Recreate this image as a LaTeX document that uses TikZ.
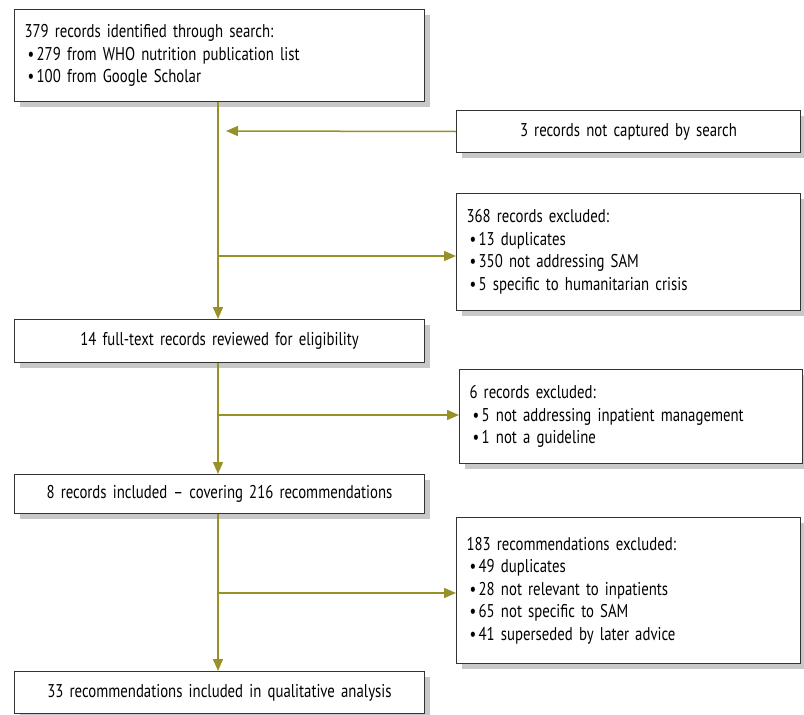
\documentclass[tikz,border=0pt]{standalone}
\usepackage{fontspec}
\setmainfont[FakeStretch=0.8]{PT Sans}
\usetikzlibrary{shadows,arrows.meta}
\definecolor{arr}{RGB}{150,146,40}
\definecolor{shd}{RGB}{200,200,200}
\newcommand{\bl}{\hspace*{3pt}\textbullet\hspace{2.5pt}}
\newcommand{\boxfont}{\fontsize{18.5}{22.5}\selectfont\spaceskip=3pt plus 1pt minus 0.5pt\relax}
\begin{document}
\begin{tikzpicture}[x=1pt,y=-1pt,
 box/.style={draw=black!80, line width=1pt, fill=white, anchor=north west,
   drop shadow={shadow xshift=5pt, shadow yshift=-5pt, fill=shd, opacity=1},
   inner xsep=10pt, inner ysep=0pt, font=\boxfont},
 lbox/.style={box, align=left},
 cbox/.style={box, align=center},
 flow/.style={draw=arr, line width=1.5pt, -{Triangle[length=12pt,width=10pt]}}]
\fill[white] (0,0) rectangle (804,715);
\useasboundingbox (0,0) rectangle (804,715);

\node[lbox, text width=390pt, minimum height=92pt] (b1) at (14,9) {379 records identified through search:\\ \bl 279 from WHO nutrition publication list\\ \bl 100 from Google Scholar};
\node[cbox, text width=324pt, minimum height=42pt] (b3) at (456,110) {3 records not captured by search};
\node[lbox, text width=324pt, minimum height=117pt] (b368) at (456,193) {368 records excluded:\\ \bl 13 duplicates\\ \bl 350 not addressing SAM\\ \bl 5 specific to humanitarian crisis};
\node[cbox, text width=390pt, minimum height=43pt] (b14) at (14,319) {14 full-text records reviewed for eligibility};
\node[lbox, text width=323pt, minimum height=94pt] (b6) at (459,369) {6 records excluded:\\ \bl 5 not addressing inpatient management\\ \bl 1 not a guideline};
\node[cbox, text width=390pt, minimum height=39pt] (b8) at (14,474) {8 records included -- covering 216 recommendations};
\node[lbox, text width=324pt, minimum height=146pt] (b183) at (456,517) {183 recommendations excluded:\\ \bl 49 duplicates\\ \bl 28 not relevant to inpatients\\ \bl 65 not specific to SAM\\ \bl 41 superseded by later advice};
\node[cbox, text width=390pt, minimum height=42pt] (b33) at (14,671) {33 recommendations included in qualitative analysis};

\coordinate (j1) at (218,256);
\coordinate (j2) at (218,415);
\coordinate (j3) at (218,593);
\coordinate (t3) at (226,131);

\draw[flow] (b1.south -| j1) -- (b14.north -| j1);
\draw[flow] (b3.west) -- (t3);
\draw[flow] (j1) -- (j1 -| b368.west);
\draw[flow] (b14.south -| j2) -- (b8.north -| j2);
\draw[flow] (j2) -- (j2 -| b6.west);
\draw[flow] (b8.south -| j3) -- (b33.north -| j3);
\draw[flow] (j3) -- (j3 -| b183.west);
\end{tikzpicture}
\end{document}
